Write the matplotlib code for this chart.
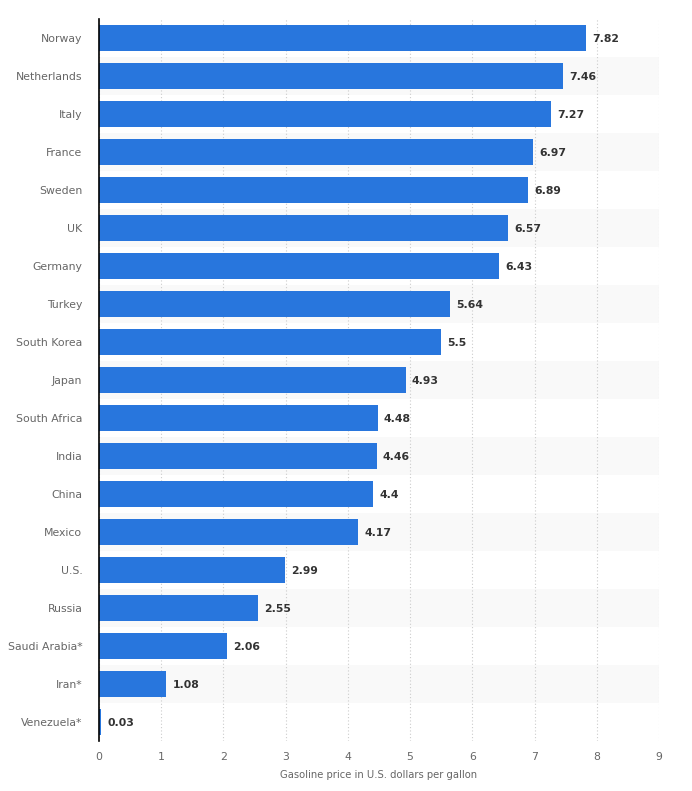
import matplotlib
matplotlib.use("Agg")
import matplotlib.pyplot as plt
import numpy as np

countries = ["Norway", "Netherlands", "Italy", "France", "Sweden", "UK", "Germany",
             "Turkey", "South Korea", "Japan", "South Africa", "India", "China",
             "Mexico", "U.S.", "Russia", "Saudi Arabia*", "Iran*", "Venezuela*"]
prices = [7.82, 7.46, 7.27, 6.97, 6.89, 6.57, 6.43, 5.64, 5.5, 4.93, 4.48, 4.46,
          4.4, 4.17, 2.99, 2.55, 2.06, 1.08, 0.03]
value_labels = ["7.82", "7.46", "7.27", "6.97", "6.89", "6.57", "6.43", "5.64", "5.5",
                "4.93", "4.48", "4.46", "4.4", "4.17", "2.99", "2.55", "2.06", "1.08", "0.03"]
x_ticks = list(range(0, 10))
x_label = "Gasoline price in U.S. dollars per gallon"

fig = plt.figure(figsize=(6.92, 7.91), dpi=100)
ax = fig.add_axes([99/692, 1 - 741/791, 560/692, 722/791])

n = len(countries)
y = np.arange(n)

for i in range(n):
    if i % 2 == 1:
        ax.axhspan(i - 0.5, i + 0.5, color="#f9f9f9", zorder=0, lw=0)

ax.barh(y, prices, height=0.71, color="#2876dd", zorder=3)
for i, (v, lab) in enumerate(zip(prices, value_labels)):
    ax.text(v + 0.1, i + 0.03, lab, va="center", ha="left", fontsize=7.8,
            fontweight="bold", color="#333333", zorder=4)

ax.set_ylim(n - 0.5, -0.5)
ax.set_xlim(0, 9)
ax.set_xticks(x_ticks)
ax.set_yticks(y)
ax.set_yticklabels(countries)
ax.tick_params(axis="y", length=0, pad=12, labelsize=7.8, labelcolor="#666666")
ax.tick_params(axis="x", length=0, pad=8, labelsize=7.8, labelcolor="#666666")
ax.set_xlabel(x_label, fontsize=7.2, color="#666666", labelpad=6)

ax.grid(axis="x", color="#cccccc", linestyle=(0, (1, 2)), linewidth=0.8, zorder=1)
for s in ["top", "right", "bottom"]:
    ax.spines[s].set_visible(False)
ax.spines["left"].set_color("#000000")
ax.spines["left"].set_linewidth(1.2)
ax.spines["left"].set_zorder(5)

fig.savefig("out.png", dpi=100)
